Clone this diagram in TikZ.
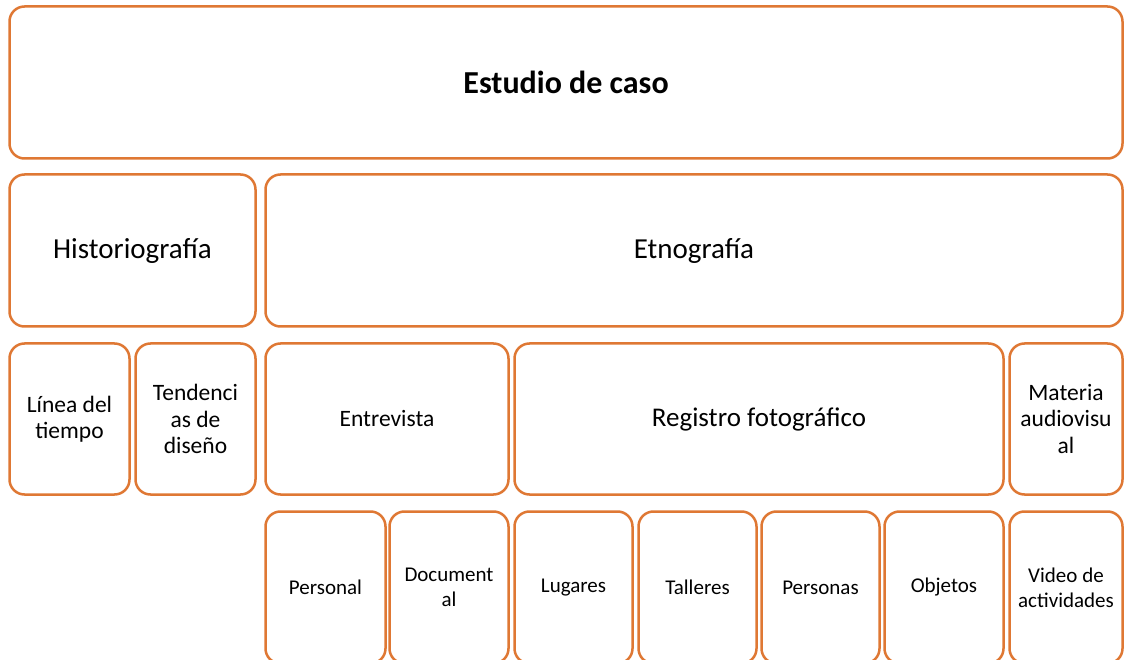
\documentclass[tikz,border=0pt]{standalone}
\usepackage{fontspec}
\setmainfont{Carlito}
\definecolor{boxor}{HTML}{DF7834}
\tikzset{
  box/.style={draw=boxor, line width=2.5pt, rounded corners=15pt, fill=white, align=center, inner sep=2pt, text=black},
  big/.style={font=\fontsize{29}{32}\selectfont},
  reg/.style={font=\fontsize{27}{30}\selectfont},
  ttl/.style={font=\fontsize{32}{35}\selectfont\bfseries},
  mid/.style={font=\fontsize{23.5}{26.5}\selectfont},
  sml/.style={font=\fontsize{21}{25}\selectfont},
}
\begin{document}
\begin{tikzpicture}[x=1pt,y=-1pt]
\useasboundingbox (0,0) rectangle (1125,660);
\clip (0,0) rectangle (1125,660);
\node[box, ttl, minimum width=1113pt, minimum height=152pt] (top) at (566,82.5) {Estudio de caso};
\node[box, big, minimum width=246pt, minimum height=152pt] (hist) at (132.5,250.5) {Historiografía};
\node[box, big, minimum width=857pt, minimum height=152pt] (etno) at (694,250.5) {Etnografía};
\node[box, mid, minimum width=120pt, minimum height=151pt] (linea) at (69.5,419) {Línea del\\tiempo};
\node[box, mid, minimum width=120pt, minimum height=151pt] (tend) at (195.5,419) {Tendenci\\as de\\diseño};
\node[box, mid, minimum width=243pt, minimum height=151pt] (entre) at (387,419) {Entrevista};
\node[box, reg, minimum width=489pt, minimum height=151pt] (reg) at (759,419) {Registro fotográfico};
\node[box, mid, minimum width=113pt, minimum height=151pt] (mat) at (1066,419) {Materia\\audiovisu\\al};
\node[box, sml, minimum width=120pt, minimum height=152pt] (pers) at (325.5,587.5) {Personal};
\node[box, sml, minimum width=119pt, minimum height=152pt] (doc) at (449,587.5) {Document\\al};
\node[box, sml, minimum width=118pt, minimum height=152pt] (lug) at (573.5,587.5) {Lugares};
\node[box, sml, minimum width=118pt, minimum height=152pt] (tall) at (697.5,587.5) {Talleres};
\node[box, sml, minimum width=118pt, minimum height=152pt] (persn) at (820.5,587.5) {Personas};
\node[box, sml, minimum width=119pt, minimum height=152pt] (obj) at (944,587.5) {Objetos};
\node[box, sml, minimum width=113pt, minimum height=152pt] (video) at (1066,587.5) {Video de\\actividades};
\end{tikzpicture}
\end{document}
